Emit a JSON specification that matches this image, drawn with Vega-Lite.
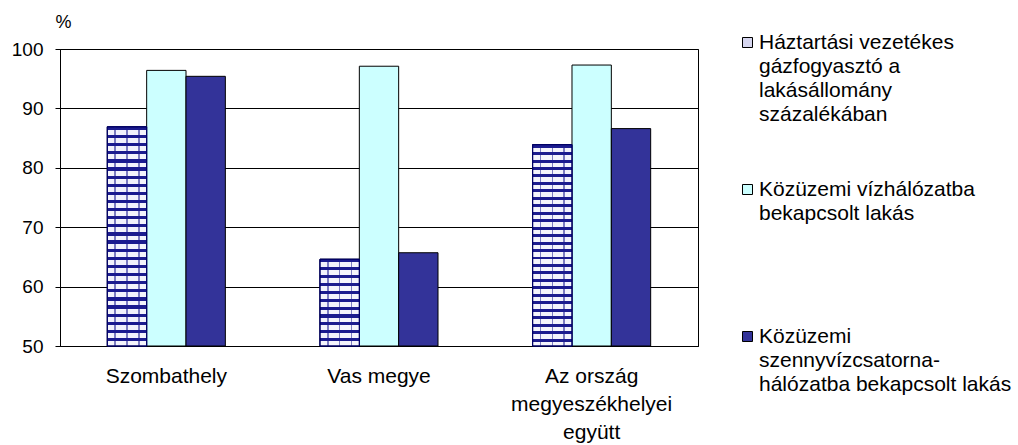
{
  "$schema": "https://vega.github.io/schema/vega-lite/v6.json",
  "width": 638,
  "height": 297,
  "autosize": "none",
  "padding": {"left": 60, "top": 49, "right": 320, "bottom": 99},
  "background": "white",
  "config": {"font": "Liberation Sans", "view": {"stroke": "black", "strokeWidth": 1}},
  "data": {"values": [
    {"region": "Szombathely", "series": "Háztartási vezetékes gázfogyasztó a lakásállomány százalékában", "value": 86.9},
    {"region": "Szombathely", "series": "Közüzemi vízhálózatba bekapcsolt lakás", "value": 96.4},
    {"region": "Szombathely", "series": "Közüzemi szennyvízcsatorna-hálózatba bekapcsolt lakás", "value": 95.4},
    {"region": "Vas megye", "series": "Háztartási vezetékes gázfogyasztó a lakásállomány százalékában", "value": 64.6},
    {"region": "Vas megye", "series": "Közüzemi vízhálózatba bekapcsolt lakás", "value": 97.1},
    {"region": "Vas megye", "series": "Közüzemi szennyvízcsatorna-hálózatba bekapcsolt lakás", "value": 65.7},
    {"region": "Az ország megyeszékhelyei együtt", "series": "Háztartási vezetékes gázfogyasztó a lakásállomány százalékában", "value": 83.9},
    {"region": "Az ország megyeszékhelyei együtt", "series": "Közüzemi vízhálózatba bekapcsolt lakás", "value": 97.3},
    {"region": "Az ország megyeszékhelyei együtt", "series": "Közüzemi szennyvízcsatorna-hálózatba bekapcsolt lakás", "value": 86.6}
  ]},
  "encoding": {
    "x": {
      "field": "region", "type": "nominal",
      "sort": ["Szombathely", "Vas megye", "Az ország megyeszékhelyei együtt"],
      "scale": {"paddingInner": 0.445, "paddingOuter": 0.2225},
      "axis": {
        "title": null, "ticks": false, "labelAngle": 0, "labelFontSize": 21, "labelColor": "black",
        "labelPadding": 19, "labelLineHeight": 28, "labelBaseline": "top",
        "domainColor": "black", "domainWidth": 1,
        "labelExpr": "datum.label == 'Az ország megyeszékhelyei együtt' ? ['Az ország', 'megyeszékhelyei', 'együtt'] : datum.label"
      }
    },
    "xOffset": {
      "field": "series", "type": "nominal",
      "sort": ["Háztartási vezetékes gázfogyasztó a lakásállomány százalékában", "Közüzemi vízhálózatba bekapcsolt lakás", "Közüzemi szennyvízcsatorna-hálózatba bekapcsolt lakás"],
      "scale": {"paddingInner": 0, "paddingOuter": 0}
    },
    "y": {
      "field": "value", "type": "quantitative",
      "scale": {"domain": [50, 100], "nice": false, "zero": false},
      "axis": {
        "values": [50, 60, 70, 80, 90, 100], "grid": true, "gridColor": "black", "gridOpacity": 1, "gridWidth": 1,
        "domainColor": "black", "tickColor": "black", "tickSize": 5, "labelPadding": 12,
        "labelFontSize": 19, "labelColor": "black",
        "title": "%", "titleAngle": 0, "titleX": 3, "titleY": -27, "titleAlign": "center", "titleBaseline": "middle",
        "titleFontSize": 18, "titleFontWeight": "normal", "titleColor": "black"
      }
    },
    "y2": {"datum": 50}
  },
  "layer": [
    {
      "mark": {"type": "bar", "stroke": "black", "strokeWidth": 1},
      "encoding": {
        "fill": {
          "field": "series", "type": "nominal",
          "sort": ["Háztartási vezetékes gázfogyasztó a lakásállomány százalékában", "Közüzemi vízhálózatba bekapcsolt lakás", "Közüzemi szennyvízcsatorna-hálózatba bekapcsolt lakás"],
          "scale": {"range": ["#d6d6ef", "#ccffff", "#333399"]},
          "legend": {
            "orient": "none", "legendX": 677, "legendY": -17, "title": null, "padding": 0,
            "labelFontSize": 21, "labelLimit": 400, "labelColor": "black",
            "symbolType": "square", "symbolSize": 100, "symbolStrokeColor": "black", "symbolStrokeWidth": 1,
            "labelOffset": 1, "rowPadding": 53, "gridAlign": "all", "labelBaseline": "top",
            "labelExpr": "datum.label == 'Háztartási vezetékes gázfogyasztó a lakásállomány százalékában' ? ['Háztartási vezetékes', 'gázfogyasztó a', 'lakásállomány', 'százalékában'] : datum.label == 'Közüzemi vízhálózatba bekapcsolt lakás' ? ['Közüzemi vízhálózatba', 'bekapcsolt lakás'] : ['Közüzemi', 'szennyvízcsatorna-', 'hálózatba bekapcsolt lakás']",
            "encode": {"labels": {"update": {"dy": {"value": -11}, "lineHeight": {"value": 24}}}}
          }
        }
      }
    },
    {
      "transform": [{"filter": "datum.series === 'Háztartási vezetékes gázfogyasztó a lakásállomány százalékában'"}],
      "mark": {"type": "bar", "stroke": "#000066", "strokeWidth": 1},
      "encoding": {
        "fill": {
          "condition": {
            "test": "datum.region === 'Vas megye'",
            "value": {"gradient": "linear", "x1": 0, "y1": 0, "x2": 0, "y2": 1, "stops": [
              {"offset": 0, "color": "#1c1c8f"}, {"offset": 0.0364, "color": "#1c1c8f"}, {"offset": 0.0364, "color": "#f4f4fc"}, {"offset": 0.0909, "color": "#f4f4fc"},
              {"offset": 0.0909, "color": "#1c1c8f"}, {"offset": 0.1273, "color": "#1c1c8f"}, {"offset": 0.1273, "color": "#f4f4fc"}, {"offset": 0.1818, "color": "#f4f4fc"},
              {"offset": 0.1818, "color": "#1c1c8f"}, {"offset": 0.2182, "color": "#1c1c8f"}, {"offset": 0.2182, "color": "#f4f4fc"}, {"offset": 0.2727, "color": "#f4f4fc"},
              {"offset": 0.2727, "color": "#1c1c8f"}, {"offset": 0.3091, "color": "#1c1c8f"}, {"offset": 0.3091, "color": "#f4f4fc"}, {"offset": 0.3636, "color": "#f4f4fc"},
              {"offset": 0.3636, "color": "#1c1c8f"}, {"offset": 0.4, "color": "#1c1c8f"}, {"offset": 0.4, "color": "#f4f4fc"}, {"offset": 0.4545, "color": "#f4f4fc"},
              {"offset": 0.4545, "color": "#1c1c8f"}, {"offset": 0.4909, "color": "#1c1c8f"}, {"offset": 0.4909, "color": "#f4f4fc"}, {"offset": 0.5455, "color": "#f4f4fc"},
              {"offset": 0.5455, "color": "#1c1c8f"}, {"offset": 0.5818, "color": "#1c1c8f"}, {"offset": 0.5818, "color": "#f4f4fc"}, {"offset": 0.6364, "color": "#f4f4fc"},
              {"offset": 0.6364, "color": "#1c1c8f"}, {"offset": 0.6727, "color": "#1c1c8f"}, {"offset": 0.6727, "color": "#f4f4fc"}, {"offset": 0.7273, "color": "#f4f4fc"},
              {"offset": 0.7273, "color": "#1c1c8f"}, {"offset": 0.7636, "color": "#1c1c8f"}, {"offset": 0.7636, "color": "#f4f4fc"}, {"offset": 0.8182, "color": "#f4f4fc"},
              {"offset": 0.8182, "color": "#1c1c8f"}, {"offset": 0.8545, "color": "#1c1c8f"}, {"offset": 0.8545, "color": "#f4f4fc"}, {"offset": 0.9091, "color": "#f4f4fc"},
              {"offset": 0.9091, "color": "#1c1c8f"}, {"offset": 0.9455, "color": "#1c1c8f"}, {"offset": 0.9455, "color": "#f4f4fc"}, {"offset": 1, "color": "#f4f4fc"}
            ]}
          },
          "value": {"gradient": "linear", "x1": 0, "y1": 0, "x2": 0, "y2": 1, "stops": [
            {"offset": 0, "color": "#1c1c8f"}, {"offset": 0.0148, "color": "#1c1c8f"}, {"offset": 0.0148, "color": "#f4f4fc"}, {"offset": 0.037, "color": "#f4f4fc"},
            {"offset": 0.037, "color": "#1c1c8f"}, {"offset": 0.0519, "color": "#1c1c8f"}, {"offset": 0.0519, "color": "#f4f4fc"}, {"offset": 0.0741, "color": "#f4f4fc"},
            {"offset": 0.0741, "color": "#1c1c8f"}, {"offset": 0.0889, "color": "#1c1c8f"}, {"offset": 0.0889, "color": "#f4f4fc"}, {"offset": 0.1111, "color": "#f4f4fc"},
            {"offset": 0.1111, "color": "#1c1c8f"}, {"offset": 0.1259, "color": "#1c1c8f"}, {"offset": 0.1259, "color": "#f4f4fc"}, {"offset": 0.1481, "color": "#f4f4fc"},
            {"offset": 0.1481, "color": "#1c1c8f"}, {"offset": 0.163, "color": "#1c1c8f"}, {"offset": 0.163, "color": "#f4f4fc"}, {"offset": 0.1852, "color": "#f4f4fc"},
            {"offset": 0.1852, "color": "#1c1c8f"}, {"offset": 0.2, "color": "#1c1c8f"}, {"offset": 0.2, "color": "#f4f4fc"}, {"offset": 0.2222, "color": "#f4f4fc"},
            {"offset": 0.2222, "color": "#1c1c8f"}, {"offset": 0.237, "color": "#1c1c8f"}, {"offset": 0.237, "color": "#f4f4fc"}, {"offset": 0.2593, "color": "#f4f4fc"},
            {"offset": 0.2593, "color": "#1c1c8f"}, {"offset": 0.2741, "color": "#1c1c8f"}, {"offset": 0.2741, "color": "#f4f4fc"}, {"offset": 0.2963, "color": "#f4f4fc"},
            {"offset": 0.2963, "color": "#1c1c8f"}, {"offset": 0.3111, "color": "#1c1c8f"}, {"offset": 0.3111, "color": "#f4f4fc"}, {"offset": 0.3333, "color": "#f4f4fc"},
            {"offset": 0.3333, "color": "#1c1c8f"}, {"offset": 0.3481, "color": "#1c1c8f"}, {"offset": 0.3481, "color": "#f4f4fc"}, {"offset": 0.3704, "color": "#f4f4fc"},
            {"offset": 0.3704, "color": "#1c1c8f"}, {"offset": 0.3852, "color": "#1c1c8f"}, {"offset": 0.3852, "color": "#f4f4fc"}, {"offset": 0.4074, "color": "#f4f4fc"},
            {"offset": 0.4074, "color": "#1c1c8f"}, {"offset": 0.4222, "color": "#1c1c8f"}, {"offset": 0.4222, "color": "#f4f4fc"}, {"offset": 0.4444, "color": "#f4f4fc"},
            {"offset": 0.4444, "color": "#1c1c8f"}, {"offset": 0.4593, "color": "#1c1c8f"}, {"offset": 0.4593, "color": "#f4f4fc"}, {"offset": 0.4815, "color": "#f4f4fc"},
            {"offset": 0.4815, "color": "#1c1c8f"}, {"offset": 0.4963, "color": "#1c1c8f"}, {"offset": 0.4963, "color": "#f4f4fc"}, {"offset": 0.5185, "color": "#f4f4fc"},
            {"offset": 0.5185, "color": "#1c1c8f"}, {"offset": 0.5333, "color": "#1c1c8f"}, {"offset": 0.5333, "color": "#f4f4fc"}, {"offset": 0.5556, "color": "#f4f4fc"},
            {"offset": 0.5556, "color": "#1c1c8f"}, {"offset": 0.5704, "color": "#1c1c8f"}, {"offset": 0.5704, "color": "#f4f4fc"}, {"offset": 0.5926, "color": "#f4f4fc"},
            {"offset": 0.5926, "color": "#1c1c8f"}, {"offset": 0.6074, "color": "#1c1c8f"}, {"offset": 0.6074, "color": "#f4f4fc"}, {"offset": 0.6296, "color": "#f4f4fc"},
            {"offset": 0.6296, "color": "#1c1c8f"}, {"offset": 0.6444, "color": "#1c1c8f"}, {"offset": 0.6444, "color": "#f4f4fc"}, {"offset": 0.6667, "color": "#f4f4fc"},
            {"offset": 0.6667, "color": "#1c1c8f"}, {"offset": 0.6815, "color": "#1c1c8f"}, {"offset": 0.6815, "color": "#f4f4fc"}, {"offset": 0.7037, "color": "#f4f4fc"},
            {"offset": 0.7037, "color": "#1c1c8f"}, {"offset": 0.7185, "color": "#1c1c8f"}, {"offset": 0.7185, "color": "#f4f4fc"}, {"offset": 0.7407, "color": "#f4f4fc"},
            {"offset": 0.7407, "color": "#1c1c8f"}, {"offset": 0.7556, "color": "#1c1c8f"}, {"offset": 0.7556, "color": "#f4f4fc"}, {"offset": 0.7778, "color": "#f4f4fc"},
            {"offset": 0.7778, "color": "#1c1c8f"}, {"offset": 0.7926, "color": "#1c1c8f"}, {"offset": 0.7926, "color": "#f4f4fc"}, {"offset": 0.8148, "color": "#f4f4fc"},
            {"offset": 0.8148, "color": "#1c1c8f"}, {"offset": 0.8296, "color": "#1c1c8f"}, {"offset": 0.8296, "color": "#f4f4fc"}, {"offset": 0.8519, "color": "#f4f4fc"},
            {"offset": 0.8519, "color": "#1c1c8f"}, {"offset": 0.8667, "color": "#1c1c8f"}, {"offset": 0.8667, "color": "#f4f4fc"}, {"offset": 0.8889, "color": "#f4f4fc"},
            {"offset": 0.8889, "color": "#1c1c8f"}, {"offset": 0.9037, "color": "#1c1c8f"}, {"offset": 0.9037, "color": "#f4f4fc"}, {"offset": 0.9259, "color": "#f4f4fc"},
            {"offset": 0.9259, "color": "#1c1c8f"}, {"offset": 0.9407, "color": "#1c1c8f"}, {"offset": 0.9407, "color": "#f4f4fc"}, {"offset": 0.963, "color": "#f4f4fc"},
            {"offset": 0.963, "color": "#1c1c8f"}, {"offset": 0.9778, "color": "#1c1c8f"}, {"offset": 0.9778, "color": "#f4f4fc"}, {"offset": 1, "color": "#f4f4fc"}
          ]}
        }
      }
    },
    {
      "transform": [{"filter": "datum.series === 'Háztartási vezetékes gázfogyasztó a lakásállomány százalékában'"}],
      "mark": {"type": "bar", "stroke": "#000066", "strokeWidth": 1, "fillOpacity": 0.55},
      "encoding": {
        "fill": {
          "value": {"gradient": "linear", "x1": 0, "y1": 0, "x2": 1, "y2": 0, "stops": [
            {"offset": 0, "color": "rgba(28,28,143,0)"}, {"offset": 0.18, "color": "rgba(28,28,143,0)"},
            {"offset": 0.18, "color": "#1c1c8f"}, {"offset": 0.22, "color": "#1c1c8f"},
            {"offset": 0.22, "color": "rgba(28,28,143,0)"}, {"offset": 0.48, "color": "rgba(28,28,143,0)"},
            {"offset": 0.48, "color": "#1c1c8f"}, {"offset": 0.52, "color": "#1c1c8f"},
            {"offset": 0.52, "color": "rgba(28,28,143,0)"}, {"offset": 0.78, "color": "rgba(28,28,143,0)"},
            {"offset": 0.78, "color": "#1c1c8f"}, {"offset": 0.82, "color": "#1c1c8f"},
            {"offset": 0.82, "color": "rgba(28,28,143,0)"}, {"offset": 1, "color": "rgba(28,28,143,0)"}
          ]}
        }
      }
    }
  ]
}
